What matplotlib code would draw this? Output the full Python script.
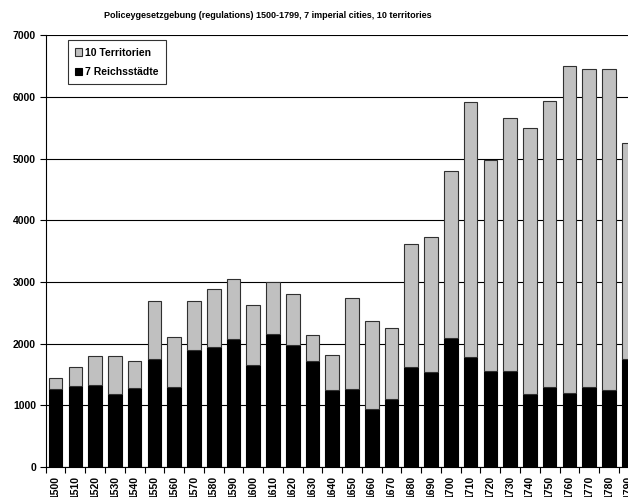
import matplotlib.pyplot as plt
import numpy as np

plt.rcParams['font.family'] = ['Liberation Sans', 'DejaVu Sans']
plt.rcParams['font.weight'] = 'bold'

# Dezennien 1500-1790
jahre = [str(j) for j in range(1500, 1800, 10)]
reichsstaedte = [1265, 1310, 1335, 1180, 1285, 1755, 1300, 1905, 1945, 2080,
                 1660, 2160, 1980, 1725, 1250, 1260, 950, 1105, 1620, 1550,
                 2100, 1785, 1560, 1560, 1190, 1295, 1200, 1305, 1250, 1750]
territorien = [185, 315, 460, 630, 440, 940, 810, 795, 940, 965,
               965, 845, 825, 410, 575, 1485, 1425, 1155, 2000, 2185,
               2695, 4130, 3415, 4095, 4310, 4635, 5300, 5155, 5210, 3500]

fig = plt.figure(figsize=(6.28, 4.97), dpi=100)
ax = fig.add_axes([0.0728, 0.06, 0.944, 0.869])

x = np.arange(len(jahre))
b1 = ax.bar(x, reichsstaedte, width=0.69, color='black', edgecolor='black',
            linewidth=0.8, label='7 Reichsstädte', zorder=3)
b2 = ax.bar(x, territorien, width=0.69, bottom=reichsstaedte, color='#C0C0C0',
            edgecolor='#303030', linewidth=0.8, label='10 Territorien', zorder=3)

ax.set_xlim(-0.5, len(jahre) - 0.5)
ax.set_ylim(0, 7000)
ax.set_yticks(range(0, 7001, 1000))
ax.yaxis.grid(True, color='black', linewidth=0.8, zorder=0)
ax.tick_params(axis='y', labelsize=7.5, length=4, width=0.8, direction='out', pad=3)

ax.set_xticks(x)
ax.set_xticklabels(jahre, rotation=90, fontsize=7.5)
ax.set_xticks(np.arange(-0.5, len(jahre), 1), minor=True)
ax.tick_params(axis='x', which='major', length=0, pad=6)
ax.tick_params(axis='x', which='minor', length=4, width=0.8, direction='out')

for s in ['top', 'right']:
    ax.spines[s].set_visible(False)
for s in ['left', 'bottom']:
    ax.spines[s].set_linewidth(0.8)

# Titel wie im Original etwas links der Mitte
fig.text(0.426, 0.968, 'Policeygesetzgebung (regulations) 1500-1799, 7 imperial cities, 10 territories',
         fontsize=6.5, fontweight='bold', ha='center', va='center')

leg = ax.legend(handles=[b2, b1], loc='upper left', bbox_to_anchor=(0.037, 0.988),
                borderaxespad=0, fontsize=7.5, frameon=True, fancybox=False,
                handlelength=0.7, handleheight=0.7, handletextpad=0.3,
                labelspacing=0.9, borderpad=0.7)
leg.get_frame().set_edgecolor('black')
leg.get_frame().set_linewidth(0.8)

plt.savefig('out.png', dpi=100)
